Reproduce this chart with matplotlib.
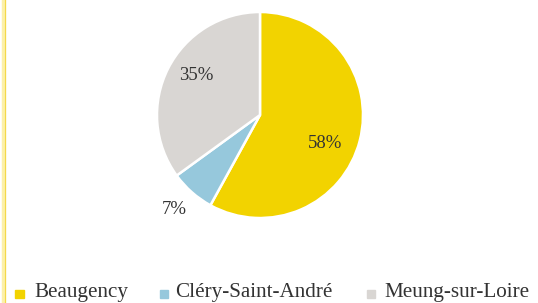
import matplotlib
matplotlib.use("Agg")
import matplotlib.pyplot as plt
from matplotlib.lines import Line2D
from matplotlib.patches import Rectangle

categories = ["Beaugency", "Cléry-Saint-André", "Meung-sur-Loire"]
values = [58, 7, 35]
labels = ["58%", "7%", "35%"]
colors = ["#F2D300", "#96C8DC", "#D9D6D3"]

W, H = 538, 303
fig = plt.figure(figsize=(W / 100, H / 100), dpi=100)
fig.patch.set_facecolor("white")

# left border
fig.add_artist(Line2D([4.0 / W, 4.0 / W], [0, 1], color="#FCF0A8", lw=3.2))
fig.add_artist(Line2D([5.2 / W, 5.2 / W], [0, 1], color="#F4D84A", lw=0.8))

cx, cy, r = 260, 115, 103
ax = fig.add_axes([(cx - r) / W, 1 - (cy + r) / H, 2 * r / W, 2 * r / H])
wedges, _ = ax.pie(values, colors=colors, startangle=90, counterclock=False,
                   wedgeprops=dict(edgecolor="white", linewidth=1.8))
ax.set_aspect("equal")
ax.set_xlim(-1, 1)
ax.set_ylim(-1, 1)

font = "Liberation Serif"
label_pos = [(325, 143), (174, 210), (196, 76)]
for lab, (x, y) in zip(labels, label_pos):
    fig.text(x / W, 1 - y / H, lab, ha="center", va="center",
             fontsize=13.5, family=font, color="#333333")

# legend
base_y = 297
marker_x = [19.5, 164, 371]
text_x = [34, 175, 384]
for cat, col, mx, tx in zip(categories, colors, marker_x, text_x):
    s = 8.5
    fig.add_artist(Rectangle(((mx - s / 2) / W, 1 - (294 + s / 2) / H),
                             s / W, s / H, color=col, transform=fig.transFigure))
    fig.text(tx / W, 1 - base_y / H, cat, ha="left", va="baseline",
             fontsize=15.2, family=font, color="#333333")

fig.savefig("out.png", dpi=100, facecolor="white")
